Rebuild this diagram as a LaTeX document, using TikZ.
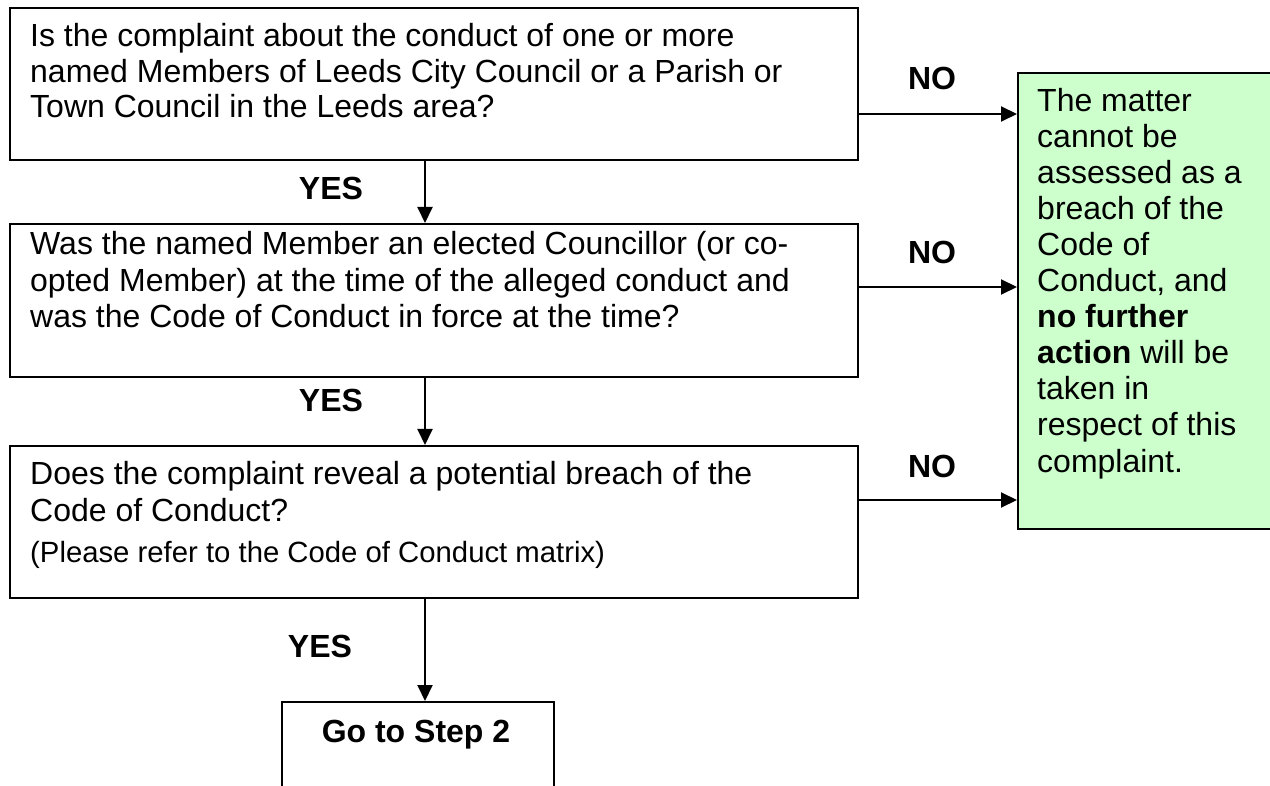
\documentclass[tikz,border=0pt]{standalone}
\usepackage{fontspec}
\setmainfont{Liberation Sans}
\usetikzlibrary{arrows.meta}
\definecolor{gfill}{RGB}{204,255,204}
\begin{document}
\begin{tikzpicture}[x=1pt,y=-1pt,
  box/.style={draw=black, line width=2pt, inner sep=0pt, anchor=north west},
  txt/.style={anchor=base west, inner sep=0pt, align=left},
  lbl/.style={anchor=base, inner sep=0pt, font=\fontsize{32}{36}\selectfont\bfseries},
  arr/.style={line width=2pt, -{Triangle[length=16pt 0 0,width=15pt 0 0]}}]
\useasboundingbox (0,0) rectangle (1270,786);
\fill[white] (0,0) rectangle (1270,786);
\clip (0,0) rectangle (1270,786);
% boxes
\node[box, minimum width=848pt, minimum height=152pt] (b1) at (9,7) {};
\node[box, minimum width=848pt, minimum height=153pt] (b2) at (9,223) {};
\node[box, minimum width=848pt, minimum height=152pt] (b3) at (9,445) {};
\node[box, minimum width=272pt, minimum height=120pt] (go) at (281,701) {};
\node[box, fill=gfill, minimum width=300pt, minimum height=456pt] (g) at (1017,72) {};
% texts (anchored at the baseline of their last line)
\node[txt, font=\fontsize{32}{35.5}\selectfont] (t1) at (30,118)
  {Is the complaint about the conduct of one or more\\named Members of Leeds City Council or a Parish or\\Town Council in the Leeds area?};
\node[txt, font=\fontsize{32}{36.5}\selectfont] (t2) at (30,328)
  {Was the named Member an elected Councillor (or co-\\opted Member) at the time of the alleged conduct and\\was the Code of Conduct in force at the time?};
\node[txt, font=\fontsize{32}{37}\selectfont] (t3) at (30,521)
  {Does the complaint reveal a potential breach of the\\Code of Conduct?};
\node[txt, font=\fontsize{29.3}{34}\selectfont] (t3b) at (30,562)
  {(Please refer to the Code of Conduct matrix)};
\node[txt, font=\fontsize{32}{36.1}\selectfont] (gt) at (1037,472)
  {The matter\\cannot be\\assessed as a\\breach of the\\Code of\\Conduct, and\\\textbf{no further}\\\textbf{action} will be\\taken in\\respect of this\\complaint.};
\node[lbl] (golbl) at (416,742) {Go to Step 2};
% labels
\node[lbl] (y1) at (331,200) {YES};
\node[lbl] (y2) at (331,412) {YES};
\node[lbl] (y3) at (320,657) {YES};
\node[lbl] (n1) at (932,90) {NO};
\node[lbl] (n2) at (932,264) {NO};
\node[lbl] (n3) at (932,477) {NO};
% connector coordinates
\coordinate (ax) at (425,0);
\coordinate (h1) at (0,114);
\coordinate (h2) at (0,287);
\coordinate (h3) at (0,500);
% connectors
\draw[arr] (b1.south -| ax) -- (b2.north -| ax);
\draw[arr] (b2.south -| ax) -- (b3.north -| ax);
\draw[arr] (b3.south -| ax) -- (go.north -| ax);
\draw[arr] (b1.east |- h1) -- (g.west |- h1);
\draw[arr] (b2.east |- h2) -- (g.west |- h2);
\draw[arr] (b3.east |- h3) -- (g.west |- h3);
\end{tikzpicture}
\end{document}
